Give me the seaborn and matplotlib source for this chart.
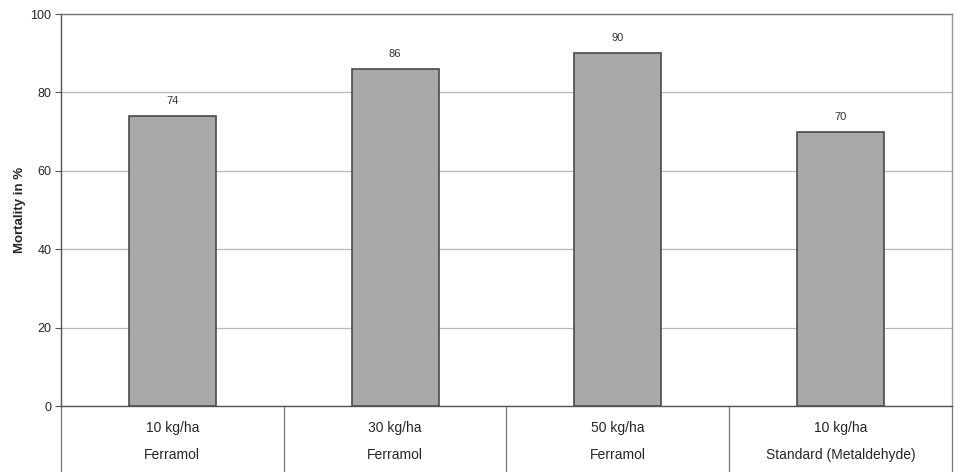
import matplotlib
matplotlib.use("Agg")
import matplotlib.pyplot as plt
import seaborn as sns
import pandas as pd
import matplotlib.transforms as mtransforms

doses = ["10 kg/ha", "30 kg/ha", "50 kg/ha", "10 kg/ha"]
products = ["Ferramol", "Ferramol", "Ferramol", "Standard (Metaldehyde)"]
mortality = [74, 86, 90, 70]
yticks = [0, 20, 40, 60, 80, 100]

labels = [f"{d}\n{p}" for d, p in zip(doses, products)]
df = pd.DataFrame({"group": labels, "mortality": mortality})

sns.set_theme(style="white")
plt.rcParams['font.family'] = ['Liberation Sans', 'DejaVu Sans']

fig = plt.figure(figsize=(9.62, 4.72), dpi=100)
ax = fig.add_axes([0.0634, 0.1398, 0.9262, 0.8305])

sns.barplot(data=df, x="group", y="mortality", ax=ax, color="#a9a9a9",
            saturation=1, width=0.39, edgecolor="#4a4a4a", linewidth=1.2)

ax.set_ylim(0, 100)
ax.set_xlim(-0.5, len(labels) - 0.5)
ax.set_yticks(yticks)
ax.set_yticklabels([str(t) for t in yticks], fontsize=9)
ax.yaxis.grid(True, color="#b8b8b8", linewidth=0.9)
ax.set_axisbelow(True)
ax.tick_params(axis="y", length=4, width=0.8, color="#555555", left=True, pad=3)
ax.tick_params(axis="x", length=0, pad=11)
ax.set_xticks(range(len(labels)))
ax.set_xticklabels([f"{d}\n{p}" for d, p in zip(doses, products)],
                   fontsize=10, linespacing=2.2)
ax.set_xlabel("")
ax.set_ylabel("Mortality in %", fontsize=9.5, fontweight="bold", labelpad=3)

for s in ["left", "top", "right", "bottom"]:
    ax.spines[s].set_visible(True)
    ax.spines[s].set_color("#555555")
    ax.spines[s].set_linewidth(1.0)
ax.spines["right"].set_color("#999999")
ax.spines["top"].set_color("#777777")

for i, v in enumerate(mortality):
    ax.text(i, v + 2.5, str(v), ha="center", va="bottom", fontsize=8, color="#333333")

# table-like separators below the axis
trans = mtransforms.blended_transform_factory(ax.transData, ax.transAxes)
for xb in [-0.5, 0.5, 1.5, 2.5, 3.5]:
    ax.plot([xb, xb], [0, -0.17], transform=trans, color="#777777",
            linewidth=0.9, clip_on=False)

fig.savefig("out.png", dpi=100)
